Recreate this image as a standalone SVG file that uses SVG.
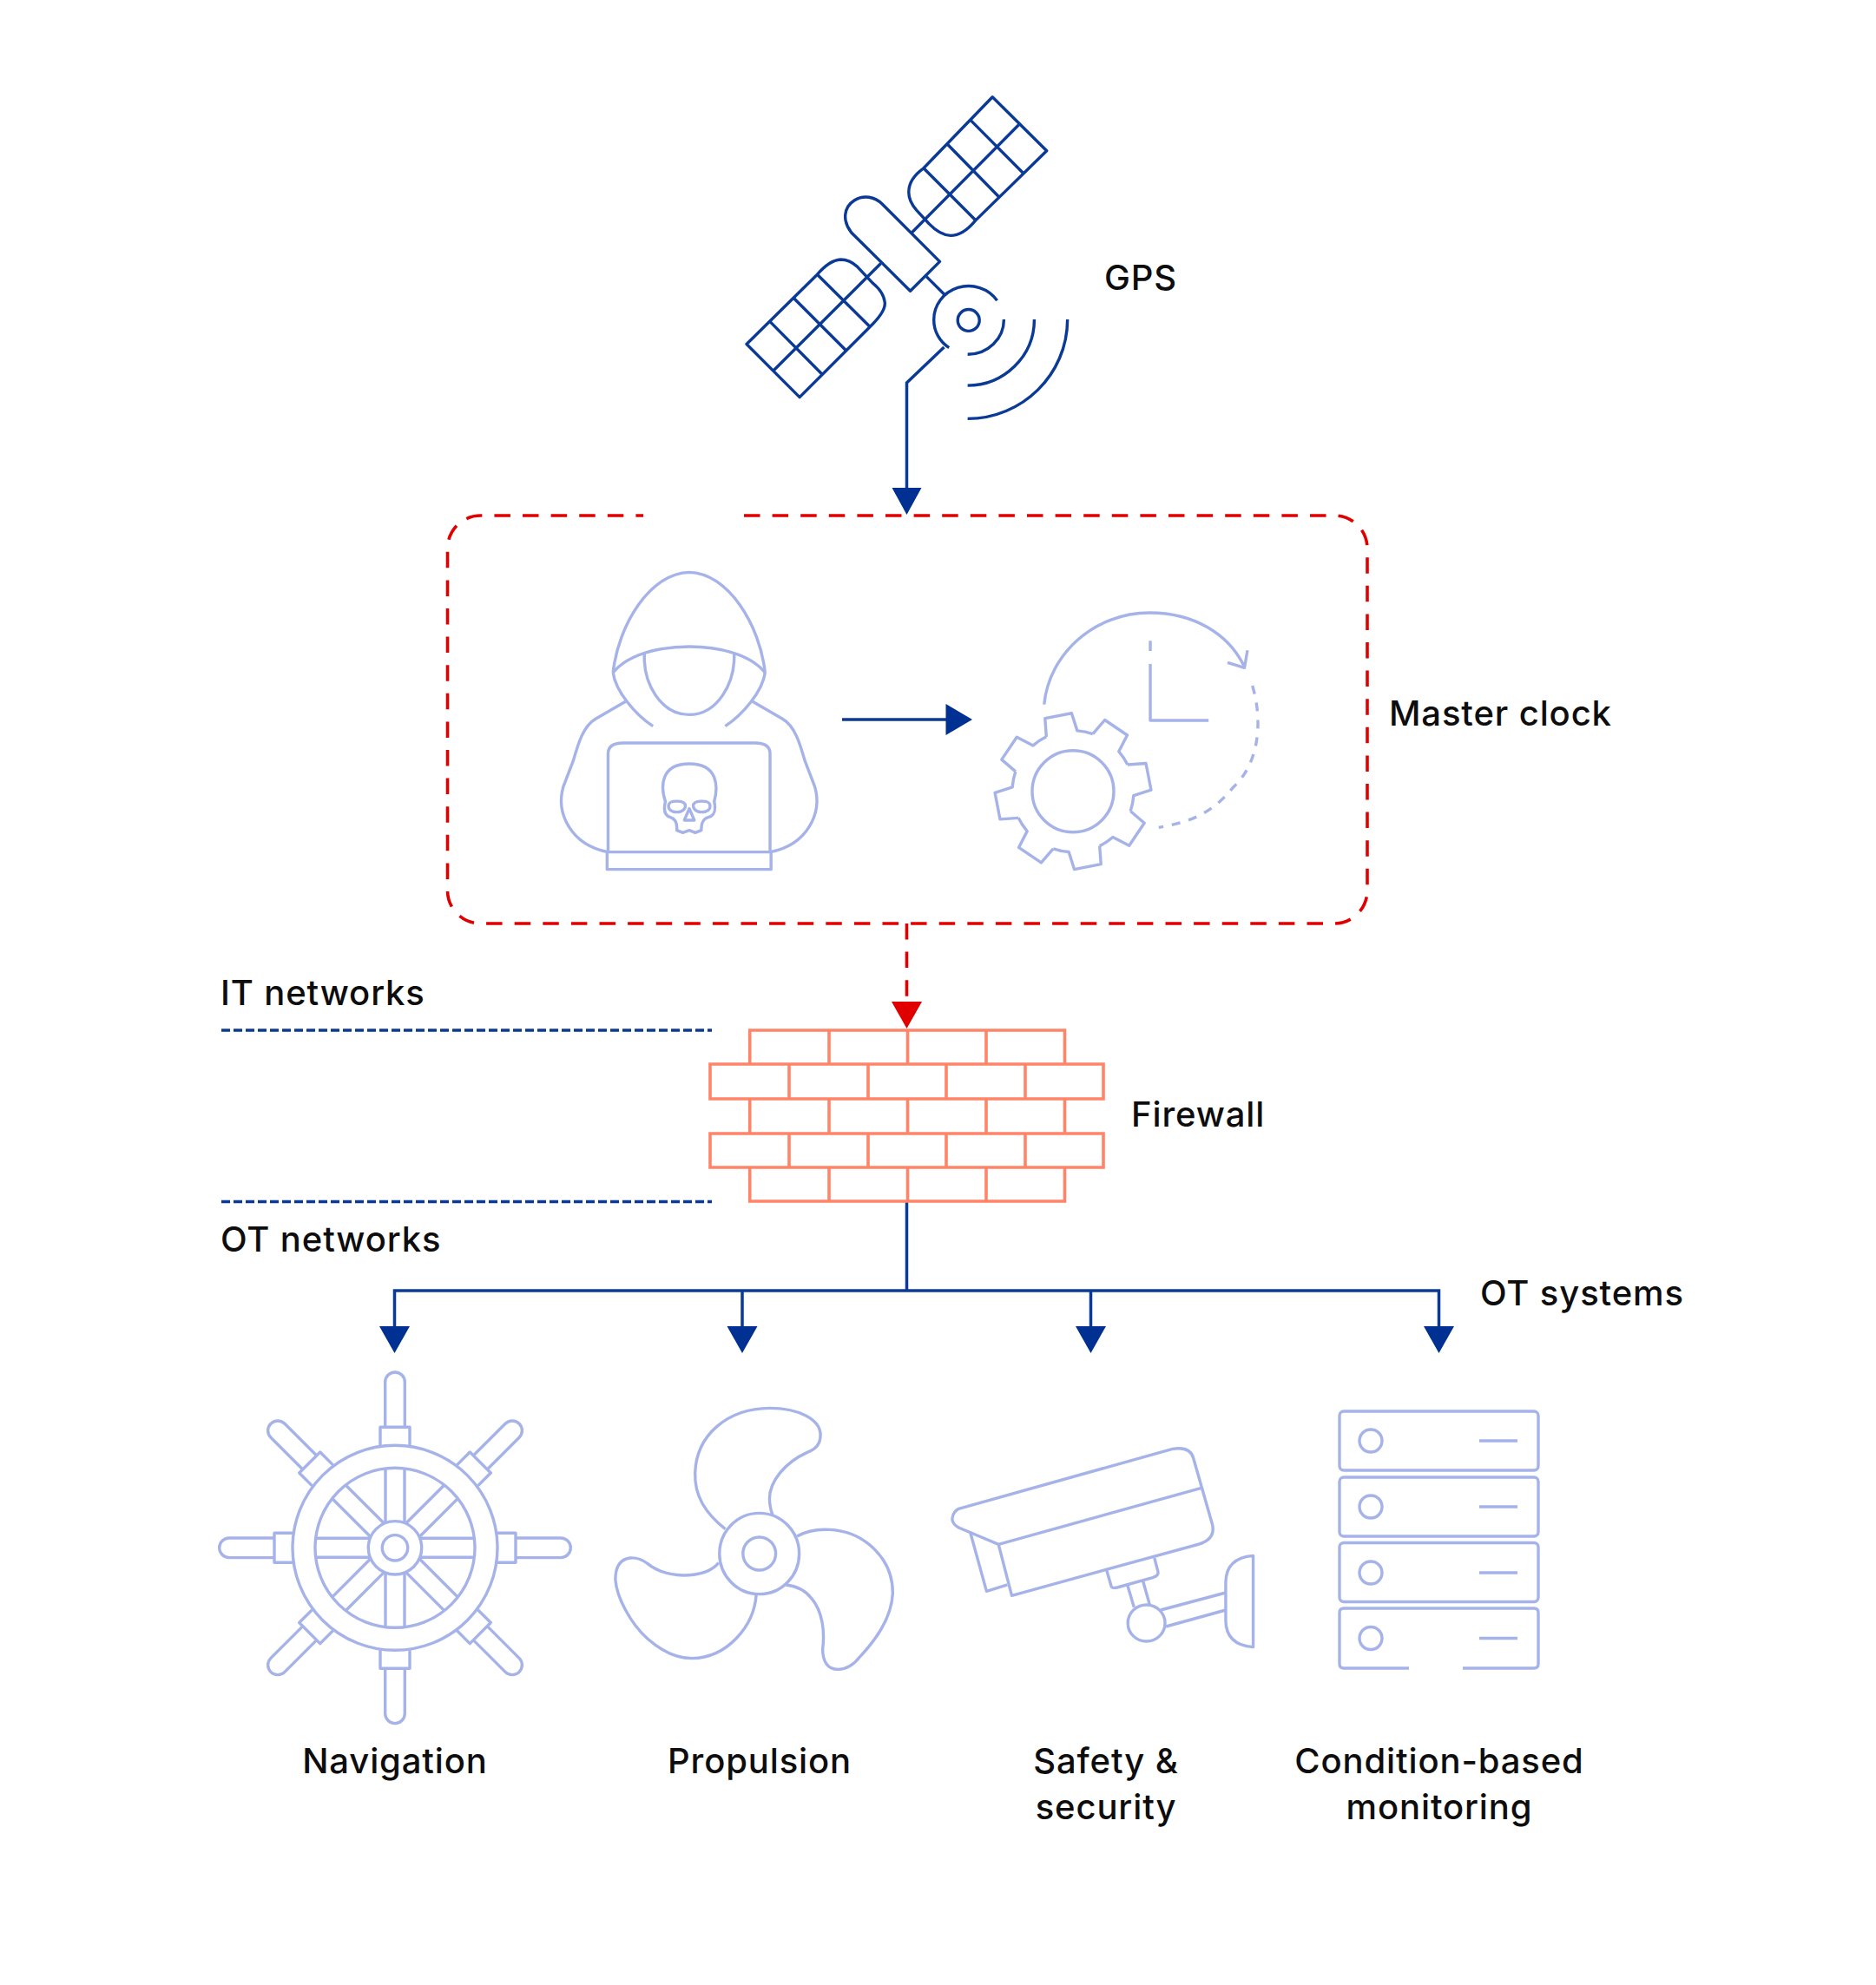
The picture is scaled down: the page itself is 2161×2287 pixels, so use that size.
<svg xmlns="http://www.w3.org/2000/svg" xmlns:xlink="http://www.w3.org/1999/xlink" width="2161" height="2287" viewBox="0 0 2161 2287">
<defs>
<style>
text{font-family:"Inter","Liberation Sans",sans-serif;font-weight:500;font-size:40px;letter-spacing:.87px;fill:#0d0d0d}
.c{text-anchor:middle}
path,circle,ellipse,rect,line,polyline{vector-effect:non-scaling-stroke}
.dk{fill:none;stroke:#0b3a96;stroke-width:3.4;stroke-linejoin:round}
.lt{fill:none;stroke:#a6b3e9;stroke-width:3.4;stroke-linejoin:round;stroke-linecap:butt}
.br{fill:none;stroke:#ff8468;stroke-width:3.6}
.wire{fill:none;stroke:#0b3a96;stroke-width:3.5}
.head{fill:#003092;stroke:none}
.rhead{fill:#e00000;stroke:none}
.rd{fill:none;stroke:#e00000;stroke-width:3.6;stroke-dasharray:18.5 14.1}
.bd{fill:none;stroke:#0b3a96;stroke-width:3.6;stroke-dasharray:10 4}
</style>
<path id="tooth" d="M67.6 -18.1L88.6 -15.6L88.6 15.6L67.6 18.1A70 70 0 0 1 60.6 35"/>
<g id="arm">
<path d="M-11.3 -139V-191A11.3 11.3 0 0 1 11.3 -191V-139M-17 -118V-139H17V-118M-11 -91V-29M11 -91V-29"/>
</g>
</defs>
<rect width="2161" height="2287" fill="#ffffff"/>

<g id="satellite" class="dk" transform="translate(820 80) scale(0.35714 0.34483)">
<path d="M905 92L1080 272L850 505Q810 555 770 555Q735 553 700 515L660 470Q635 440 635 410Q635 365 683 330Z"/>
<path d="M835 170L1003 345M760 250L925 425M683 330L850 503M990 185L645 545"/>
<path d="M112 918L283 1095L510 860Q560 810 558 780Q555 745 520 715L470 660Q445 635 415 635Q380 637 340 685Z"/>
<path d="M185 840L355 1018M262 762L432 938M340 685L510 860M200 1005L545 648"/>
<path d="M735 642L640 740L450 545C420 505 425 460 460 437C490 418 525 425 550 450Z"/>
<path d="M692 692L750 752"/>
<path d="M920 772A112 112 0 0 0 716 838A112 112 0 0 0 765 930"/>
<ellipse cx="828" cy="838" rx="35" ry="36"/>
<path d="M942 835C942 900 890 952 825 952M1040 835C1040 960 940 1056 825 1056M1147 835C1147 1020 1000 1167 825 1167"/>
</g>

<g id="connectors">
<path class="wire" d="M1087.5 400L1044.500 441V564"/>
<polygon class="head" points="1027.500,562 1061.500,562 1044.500,593"/>
<path class="rd" d="M1044.500 1064V1156"/>
<polygon class="rhead" points="1027,1154 1062,1154 1044.500,1185"/>
<path class="wire" stroke-width="3" d="M970 829H1092"/>
<polygon class="head" points="1089.5,811 1120,829 1089.5,847"/>
<path class="wire" d="M1044.500 1384V1487M454.500 1528V1487H1657.500V1528M855 1487V1528M1256.500 1487V1528"/>
<polygon class="head" points="437,1528 472,1528 454.500,1559"/>
<polygon class="head" points="837.500,1528 872.500,1528 855,1559"/>
<polygon class="head" points="1239,1528 1274,1528 1256.500,1559"/>
<polygon class="head" points="1640,1528 1675,1528 1657.500,1559"/>
</g>

<g id="master-clock-box">
<path class="rd" d="M857 594H1537A38 38 0 0 1 1575 632V1026A38 38 0 0 1 1537 1064H553.500A38 38 0 0 1 515.500 1026V632A38 38 0 0 1 553.500 594H741"/>
</g>

<g id="hacker" class="lt" transform="translate(600 620) scale(0.57405 0.33333)">
<path d="M185 465C195 300 260 120 338 118C415 120 480 300 490 465"/>
<path d="M185 465C215 400 280 375 338 375C395 375 460 400 490 465"/>
<path d="M248 400C245 500 280 610 338 610C395 610 430 500 428 400"/>
<path d="M185 465C190 530 230 610 265 650M490 465C485 530 445 610 410 650"/>
<path d="M210 565L150 625C125 650 115 710 105 770L85 860C70 950 100 1060 175 1085"/>
<path d="M465 565L525 625C550 650 560 710 570 770L590 860C605 950 575 1060 500 1085"/>
<path d="M175 1085V745Q175 708 205 708H470Q500 708 500 745V1085"/>
<path d="M173 1085H502V1145H173Z"/>
<path d="M300 965C290 960 285 945 290 910C280 860 280 780 338 780C396 780 396 860 388 910C392 945 388 960 376 965C365 970 362 985 362 1010L350 1018L338 1010L325 1018L313 1010C314 985 310 970 300 965Z"/>
<path d="M297 920C300 905 330 905 330 925C330 945 315 950 305 945C297 940 295 930 297 920Z"/>
<path d="M379 920C376 905 346 905 346 925C346 945 361 950 371 945C379 940 381 930 379 920Z"/>
<path d="M338 935L328 975H348Z"/>
</g>

<g id="clock" class="lt" transform="translate(600 620) scale(0.57405 0.33333)">
<path d="M1050 575C1060 400 1150 258 1262 258C1350 258 1420 330 1452 445"/>
<path d="M1418 430L1452 448L1458 388"/>
<path stroke-dasharray="10 10" d="M1468 510C1490 640 1480 780 1430 860C1390 945 1350 980 1280 1000"/>
<path d="M1263 355V390M1263 435V630H1380"/>
</g>

<g id="gear" class="lt" transform="translate(1236 911.700)">
<use xlink:href="#tooth" transform="rotate(259)"/>
<use xlink:href="#tooth" transform="rotate(304)"/>
<use xlink:href="#tooth" transform="rotate(349)"/>
<use xlink:href="#tooth" transform="rotate(34)"/>
<use xlink:href="#tooth" transform="rotate(79)"/>
<use xlink:href="#tooth" transform="rotate(124)"/>
<use xlink:href="#tooth" transform="rotate(169)"/>
<use xlink:href="#tooth" transform="rotate(214)"/>
<circle r="47"/>
</g>

<g id="firewall" class="br">
<path d="M863.700 1226V1187H1226.500V1226M955 1187V1226M1045.500 1187V1226M1136 1187V1226"/>
<rect x="818" y="1226" width="453" height="40"/>
<path d="M909 1226V1266M1000 1226V1266M1090 1226V1266M1181 1226V1266"/>
<path d="M863.700 1266V1306M955 1266V1306M1045.500 1266V1306M1136 1266V1306M1226.500 1266V1306"/>
<rect x="818" y="1306" width="453" height="39"/>
<path d="M909 1306V1345M1000 1306V1345M1090 1306V1345M1181 1306V1345"/>
<path d="M863.700 1345V1384H1226.500V1345M955 1345V1384M1045.500 1345V1384M1136 1345V1384"/>
</g>

<g id="it-ot-boundaries">
<path class="bd" d="M255 1187H820"/>
<path class="bd" d="M255 1384.500H820"/>
</g>

<g id="navigation" class="lt" transform="translate(455 1783.300)">
<circle r="118"/><circle r="92"/><circle r="30.700"/><circle r="14.700"/>
<use xlink:href="#arm"/>
<use xlink:href="#arm" transform="rotate(45)"/>
<use xlink:href="#arm" transform="rotate(90)"/>
<use xlink:href="#arm" transform="rotate(135)"/>
<use xlink:href="#arm" transform="rotate(180)"/>
<use xlink:href="#arm" transform="rotate(225)"/>
<use xlink:href="#arm" transform="rotate(270)"/>
<use xlink:href="#arm" transform="rotate(315)"/>
</g>

<g id="propulsion" class="lt" transform="translate(690 1580) scale(0.51020 0.33333)">
<ellipse cx="362" cy="630" rx="90" ry="140"/>
<ellipse cx="362" cy="630" rx="37" ry="57"/>
<path d="M285 545C240 490 215 430 217 350C220 220 290 128 385 127C450 127 500 165 500 220C500 250 490 270 470 280C420 315 385 380 385 440C385 465 388 480 392 497"/>
<path d="M447 570C470 550 495 545 520 547C600 552 665 650 663 770C660 850 630 920 590 985C575 1015 560 1030 540 1030C515 1030 505 1000 505 960C510 900 505 830 480 785C465 755 445 742 422 738"/>
<path d="M270 662C255 690 225 705 190 705C160 703 130 690 110 665C95 648 85 643 70 645C45 650 37 680 37 720C40 780 70 870 110 925C140 965 175 992 210 992C290 990 350 880 355 772"/>
</g>

<g id="safety-security" class="lt" transform="translate(690 1580) scale(0.51020 0.33333)">
<path d="M812 475L1295 268Q1335 258 1342 300L1385 530Q1392 580 1355 597L932 775L902 598L812 540Q795 525 798 505Q800 485 812 475Z"/>
<path d="M902 598L1360 403"/>
<path d="M838 555L875 760L922 738"/>
<path d="M1146 687L1157 745Q1160 750 1170 747L1250 713Q1265 705 1262 692L1254 645"/>
<path d="M1193 738L1208 815M1228 724L1243 805"/>
<ellipse cx="1236" cy="870" rx="42" ry="63"/>
<path d="M1268 825L1415 765M1280 882L1415 825"/>
<path d="M1477 637Q1415 645 1415 730V860Q1415 945 1477 953Z"/>
</g>

<g id="condition-monitoring" class="lt">
<rect x="1543" y="1626" width="229" height="68" rx="5"/>
<rect x="1543" y="1702" width="229" height="68" rx="5"/>
<rect x="1543" y="1777.500" width="229" height="68" rx="5"/>
<path d="M1623 1922H1548Q1543 1922 1543 1917V1858Q1543 1853 1548 1853H1767Q1772 1853 1772 1858V1917Q1772 1922 1767 1922H1685"/>
<circle cx="1579" cy="1660" r="13"/><circle cx="1579" cy="1736" r="13"/><circle cx="1579" cy="1812" r="13"/><circle cx="1579" cy="1887.500" r="13"/>
<path d="M1704 1660H1748M1704 1736H1748M1704 1812H1748M1704 1887.500H1748"/>
</g>

<g id="labels">
<text x="1272" y="334">GPS</text>
<text x="1600" y="836">Master clock</text>
<text x="254" y="1158">IT networks</text>
<text x="254" y="1442">OT networks</text>
<text x="1303" y="1298">Firewall</text>
<text x="1705" y="1504">OT systems</text>
<text class="c" x="455" y="2043">Navigation</text>
<text class="c" x="875" y="2043">Propulsion</text>
<text class="c" x="1274" y="2043">Safety &amp;</text>
<text class="c" x="1274" y="2096">security</text>
<text class="c" x="1658" y="2043">Condition-based</text>
<text class="c" x="1658" y="2096">monitoring</text>
</g>
</svg>
